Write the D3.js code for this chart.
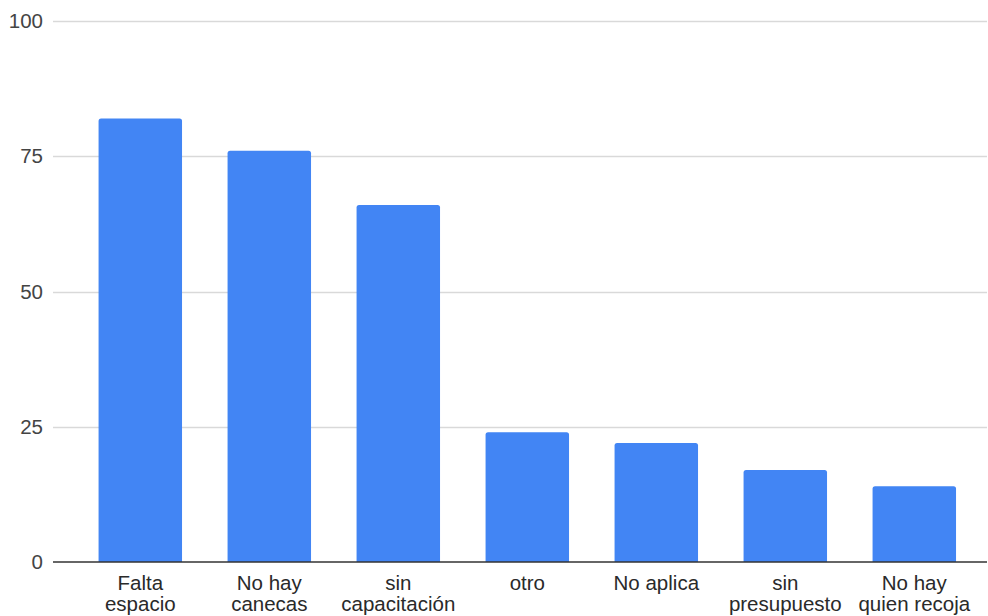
<!DOCTYPE html>
<html>
<head>
<meta charset="utf-8">
<script src="https://cdn.jsdelivr.net/npm/d3@7"></script>
<style>
html,body{margin:0;padding:0;background:#fff;}
svg{display:block;font-family:"Liberation Sans",Arial,sans-serif;}
</style>
</head>
<body>
<svg id="chart" width="988" height="616"></svg>
<script>
const categories = [["Falta","espacio"],["No hay","canecas"],["sin","capacitación"],["otro"],["No aplica"],["sin","presupuesto"],["No hay","quien recoja"]];
const values = [82, 76, 66, 24, 22, 17, 14];
const yTicks = [0, 25, 50, 75, 100];

const svg = d3.select("#chart");
const keys = categories.map((c,i)=>i);
const x = d3.scaleBand().domain(keys).range([75.8, 978.8]).paddingInner(0.353).paddingOuter(0.1765);
const y = d3.scaleLinear().domain([0,100]).range([562, 21]);

const gridG = svg.append("g");
gridG.selectAll("line").data(yTicks.filter(t=>t>0)).join("line")
  .attr("x1", 53).attr("x2", 987)
  .attr("y1", d=>Math.round(y(d))+0.5).attr("y2", d=>Math.round(y(d))+0.5)
  .attr("stroke", "#d9d9d9").attr("stroke-width", 1.3);

const yAxis = d3.axisLeft(y).tickValues(yTicks).tickSize(0).tickPadding(0);
const yg = svg.append("g").attr("transform","translate(43,0)").call(yAxis);
yg.select(".domain").remove();
yg.selectAll("text").attr("font-size", 20.5).attr("fill", "#444").attr("font-family","Liberation Sans, Arial, sans-serif");

const r = 2.5;
svg.append("g").selectAll("path").data(values).join("path")
  .attr("fill", "#4285F4")
  .attr("d", (d,i)=>{
    const x0 = x(i), w = x.bandwidth(), y0 = y(d), y1 = y(0);
    return `M${x0},${y1}V${y0+r}Q${x0},${y0} ${x0+r},${y0}H${x0+w-r}Q${x0+w},${y0} ${x0+w},${y0+r}V${y1}Z`;
  });

svg.append("line").attr("x1",53).attr("x2",987).attr("y1",y(0)).attr("y2",y(0))
  .attr("stroke","#333").attr("stroke-width",1.3);

const xAxis = d3.axisBottom(x).tickSize(0).tickFormat(()=> "");
const xg = svg.append("g").attr("transform",`translate(0,${y(0)})`).call(xAxis);
xg.select(".domain").remove();
xg.selectAll(".tick").each(function(d){
  const t = d3.select(this).append("text").attr("text-anchor","middle")
    .attr("font-size",20.5).attr("fill","#2a2a2a").attr("font-family","Liberation Sans, Arial, sans-serif");
  categories[d].forEach((line,j)=>{
    t.append("tspan").attr("x",0).attr("y",27.5 + j*21).text(line);
  });
});
</script>
</body>
</html>
